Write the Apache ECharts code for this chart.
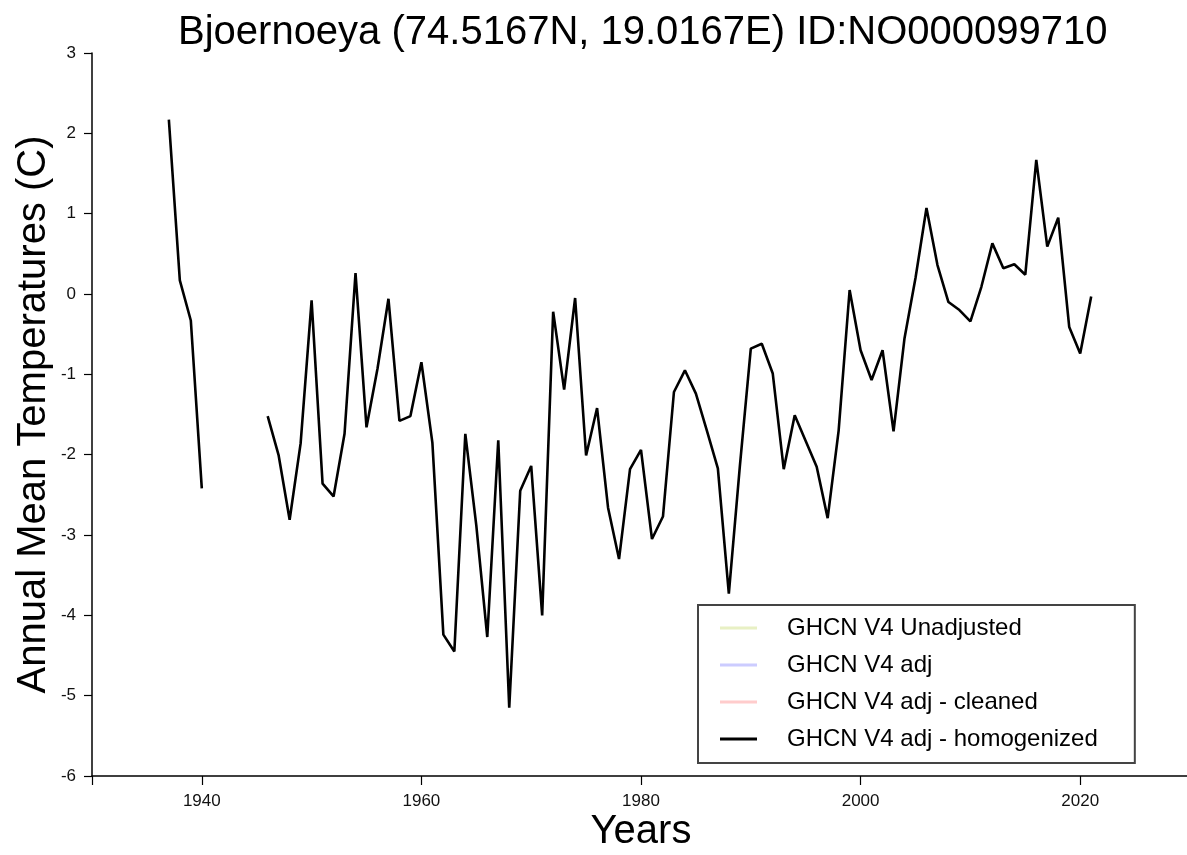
<!DOCTYPE html>
<html>
<head>
<meta charset="utf-8">
<script src="https://cdn.jsdelivr.net/npm/echarts@6/dist/echarts.min.js"></script>
<style>
html,body{margin:0;padding:0;background:#fff;}
#chart{width:1187px;height:855px;}
</style>
</head>
<body>
<div id="chart"></div>
<script>
const titleText = 'Bjoernoeya (74.5167N, 19.0167E) ID:NO000099710';
const years = [1937,1938,1939,1940,1941,1942,1943,1944,1945,1946,1947,1948,1949,1950,1951,1952,1953,1954,1955,1956,1957,1958,1959,1960,1961,1962,1963,1964,1965,1966,1967,1968,1969,1970,1971,1972,1973,1974,1975,1976,1977,1978,1979,1980,1981,1982,1983,1984,1985,1986,1987,1988,1989,1990,1991,1992,1993,1994,1995,1996,1997,1998,1999,2000,2001,2002,2003,2004,2005,2006,2007,2008,2009,2010,2011,2012,2013,2014,2015,2016,2017,2018,2019,2020,2021];
const homogenized = [2.17,0.17,-0.33,-2.42,null,null,null,null,null,-1.52,-2.01,-2.81,-1.86,-0.08,-2.36,-2.52,-1.74,0.26,-1.66,-0.93,-0.06,-1.58,-1.52,-0.85,-1.85,-4.24,-4.45,-1.74,-2.88,-4.27,-1.82,-5.15,-2.45,-2.14,-4.0,-0.22,-1.19,-0.05,-2.01,-1.42,-2.66,-3.30,-2.18,-1.94,-3.05,-2.77,-1.22,-0.95,-1.24,-1.70,-2.17,-3.73,-2.15,-0.68,-0.62,-0.99,-2.18,-1.51,-1.83,-2.15,-2.79,-1.70,0.05,-0.70,-1.07,-0.70,-1.71,-0.55,0.20,1.07,0.36,-0.10,-0.20,-0.34,0.09,0.63,0.32,0.37,0.24,1.67,0.59,0.95,-0.41,-0.74,-0.03];
const unadjusted = [];
const adj = [];
const cleaned = [];
const seriesNames = ['GHCN V4 Unadjusted','GHCN V4 adj','GHCN V4 adj - cleaned','GHCN V4 adj - homogenized'];
const xTicks = [1930,1940,1960,1980,2000,2020];
const xLabels = [1940,1960,1980,2000,2020];

const pairs = (ys) => ys.map((v,i)=>[years[i], v]);

const chart = echarts.init(document.getElementById('chart'));
const font = 'Liberation Sans, Arial, sans-serif';
chart.setOption({
  animation:false,
  backgroundColor:'#fff',
  title:{
    text:titleText, left:173, top:8,
    textStyle:{fontFamily:font, fontSize:40, fontWeight:'normal', color:'#000'}
  },
  grid:{left:92, top:53, width:1098, height:723, containLabel:false, outerBoundsMode:'none'},
  xAxis:{
    type:'value', min:1930, max:2030,
    name:'Years', nameLocation:'middle', nameGap:36, nameMoveOverlap:false,
    nameTextStyle:{fontFamily:font, fontSize:40, color:'#000'},
    axisLine:{show:true, onZero:false, lineStyle:{color:'#000', width:1.5}},
    axisTick:{show:true, length:9, customValues:xTicks, lineStyle:{color:'#000', width:1.2}},
    axisLabel:{customValues:xLabels, margin:17, fontFamily:font, fontSize:17, color:'#111', formatter:(v)=>String(v)},
    splitLine:{show:false}
  },
  yAxis:{
    type:'value', min:-6, max:3, interval:1,
    name:'Annual Mean Temperatures (C)', nameLocation:'middle', nameGap:38, nameMoveOverlap:false,
    nameTextStyle:{fontFamily:font, fontSize:40, color:'#000'},
    axisLine:{show:true, onZero:false, lineStyle:{color:'#000', width:1.5}},
    axisTick:{show:true, length:8, lineStyle:{color:'#000', width:1.2}},
    axisLabel:{margin:16, fontFamily:font, fontSize:17, color:'#111'},
    splitLine:{show:false}
  },
  legend:{
    orient:'vertical', left:698, top:605,
    backgroundColor:'#fff', borderColor:'#444', borderWidth:2,
    padding:[11,37,12,22], itemGap:13, itemWidth:37, itemHeight:3,
    icon:'rect',
    textStyle:{fontFamily:font, fontSize:24, color:'#000', padding:[0,0,0,25]},
    data:seriesNames
  },
  series:[
    {name:seriesNames[0], type:'line', data:pairs(unadjusted), symbol:'none', color:'#e8f0c4', lineStyle:{width:2}},
    {name:seriesNames[1], type:'line', data:pairs(adj), symbol:'none', color:'#ccccff', lineStyle:{width:2}},
    {name:seriesNames[2], type:'line', data:pairs(cleaned), symbol:'none', color:'#ffcccc', lineStyle:{width:2}},
    {name:seriesNames[3], type:'line', data:pairs(homogenized), symbol:'none', color:'#000', connectNulls:false, lineStyle:{width:2.6, color:'#000'}}
  ]
});
</script>
</body>
</html>
